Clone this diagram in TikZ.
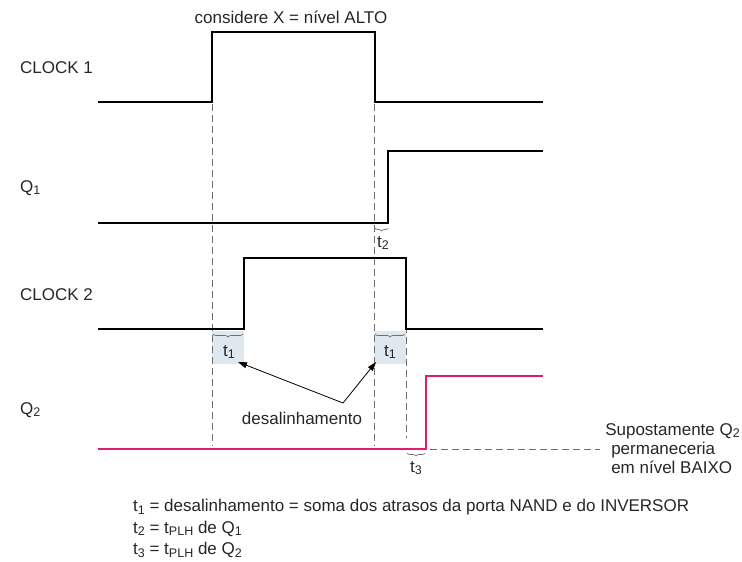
\documentclass[tikz,border=0pt]{standalone}
\usepackage{fontspec}
\setmainfont{Liberation Sans}
\usetikzlibrary{decorations.pathreplacing,arrows.meta}
\definecolor{qpink}{RGB}{220,30,110}
\definecolor{boxcol}{RGB}{222,232,238}
\definecolor{dgrey}{RGB}{110,110,110}
\newcommand{\sbs}[1]{\raisebox{-0.28ex}{\fontsize{12.5}{14}\selectfont #1}}
\tikzset{
  sig/.style={line width=2pt,black},
  psig/.style={line width=2pt,qpink},
  guide/.style={dgrey,dash pattern=on 7pt off 4pt,line width=0.8pt},
  lbl/.style={font=\fontsize{17}{20}\selectfont,inner sep=0pt,text=black!85},
  brc/.style={decorate,decoration={brace,amplitude=3pt,mirror},dgrey,line width=0.7pt},
  arr/.style={-{Triangle[length=9pt,width=6pt]},line width=0.8pt}
}
\begin{document}
\begin{tikzpicture}[x=1pt,y=-1pt]
\useasboundingbox (0,0) rectangle (742,562);
% shaded boxes
\fill[boxcol] (212,331) rectangle (244,364);
\fill[boxcol] (374,331) rectangle (406,364);
% guides
\draw[guide] (212,104) -- (212,446);
\draw[guide] (374,104) -- (374,446);
\draw[guide] (406,260) -- (406,438);
\draw[guide] (430,449) -- (600,449);
% signals
\draw[sig] (98,102) -- (212,102) -- (212,32) -- (375,32) -- (375,102) -- (543,102);
\draw[sig] (98,223) -- (388,223) -- (388,151) -- (543,151);
\draw[sig] (98,329) -- (244,329) -- (244,258) -- (406,258) -- (406,329) -- (543,329);
\draw[psig] (98,449) -- (426,449) -- (426,376) -- (543,376);
% braces
\draw[brc] (213,334) -- (243,334);
\draw[brc] (375,334) -- (405,334);
\draw[brc] (375,228) -- (388,228);
\draw[brc] (407,453) -- (425,453);
% labels
\node[lbl,anchor=west] (c1) at (20,68) {CLOCK 1};
\node[lbl,anchor=west] (q1) at (20,188) {Q\sbs{1}};
\node[lbl,anchor=west] (c2) at (20,295) {CLOCK 2};
\node[lbl,anchor=west] (q2) at (20,410) {Q\sbs{2}};
\node[lbl] (top) at (291,17) {considere X = nível ALTO};
\node[lbl] (ta) at (229,352) {t\sbs{1}};
\node[lbl] (tb) at (390,352) {t\sbs{1}};
\node[lbl] (t2) at (383,243) {t\sbs{2}};
\node[lbl] (t3) at (416,468) {t\sbs{3}};
\node[lbl] (des) at (302,418) {desalinhamento};
\coordinate (apex) at (343,403);
\coordinate (ea) at (238,362);
\coordinate (eb) at (376,362);
\draw[arr] (apex) -- (ea);
\draw[arr] (apex) -- (eb);
\node[lbl,anchor=north east,align=left] (sup) at (740,423) {Supostamente Q\sbs{2}\\[-1pt]\hspace*{6pt}permaneceria\\[-1pt]\hspace*{6pt}em nível BAIXO};
\node[lbl,anchor=north west,align=left] (leg) at (133,499) {t\sbs{1} = desalinhamento = soma dos atrasos da porta NAND e do INVERSOR\\[1.5pt]t\sbs{2} = t\sbs{PLH} de Q\sbs{1}\\[1.5pt]t\sbs{3} = t\sbs{PLH} de Q\sbs{2}};
\end{tikzpicture}
\end{document}
